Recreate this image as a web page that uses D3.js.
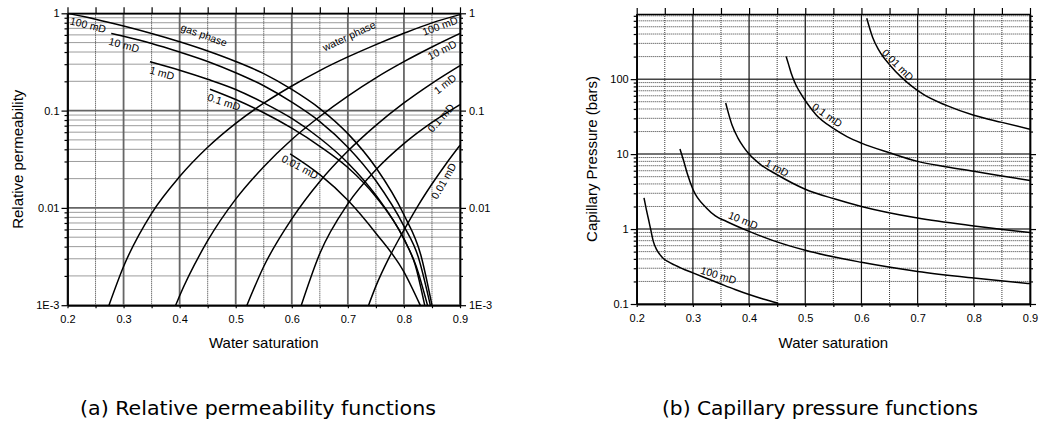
<!DOCTYPE html>
<html>
<head>
<meta charset="utf-8">
<script src="https://cdn.jsdelivr.net/npm/d3@7"></script>
<style>
  body { margin: 0; background: #fff; }
  svg text { font-family: "Liberation Sans", Arial, sans-serif; fill: #000; }
  .caption { font-family: "Liberation Sans Narrow", "DejaVu Sans Condensed", "Liberation Sans", sans-serif; }
</style>
</head>
<body>
<svg id="chart" width="1042" height="426"></svg>
<script>
// ---- Water saturation axis (shared) ----
const swMajorTicks = [0.2, 0.3, 0.4, 0.5, 0.6, 0.7, 0.8, 0.9];
const swTickLabels = ["0.2", "0.3", "0.4", "0.5", "0.6", "0.7", "0.8", "0.9"];
const swMinorTicks = [0.25, 0.35, 0.45, 0.55, 0.65, 0.75, 0.85];

// ---- Relative permeability: tick labels ----
const krTicks = [0.001, 0.01, 0.1, 1];
const krTickLabels = ["1E-3", "0.01", "0.1", "1"];

// ---- Relative permeability, gas phase [Sw, kr] ----
const gas100 = [[0.2,1.0],[0.25,0.87],[0.3,0.74],[0.35,0.62],[0.4,0.51],[0.45,0.41],[0.5,0.32],[0.55,0.24],[0.6,0.165],[0.65,0.105],[0.7,0.058],[0.75,0.026],[0.8,0.0085],[0.83,0.0033],[0.85,0.001]];
const gas10 = [[0.278,0.62],[0.3,0.58],[0.35,0.49],[0.4,0.40],[0.45,0.32],[0.5,0.245],[0.55,0.18],[0.6,0.122],[0.65,0.077],[0.7,0.042],[0.75,0.019],[0.8,0.0065],[0.825,0.0032],[0.847,0.001]];
const gas1 = [[0.347,0.318],[0.4,0.26],[0.45,0.21],[0.5,0.165],[0.55,0.12],[0.6,0.083],[0.65,0.052],[0.7,0.029],[0.75,0.0135],[0.8,0.0048],[0.822,0.0025],[0.842,0.001]];
const gas01 = [[0.454,0.166],[0.5,0.13],[0.55,0.095],[0.6,0.066],[0.65,0.043],[0.7,0.026],[0.75,0.013],[0.8,0.0048],[0.82,0.0026],[0.837,0.001]];
const gas001 = [[0.597,0.036],[0.65,0.022],[0.7,0.012],[0.75,0.0055],[0.8,0.0022],[0.829,0.001]];

// ---- Relative permeability, water phase [Sw, kr] ----
const water100 = [[0.274,0.001],[0.3,0.0025],[0.35,0.0088],[0.4,0.021],[0.45,0.042],[0.5,0.074],[0.55,0.119],[0.6,0.179],[0.65,0.258],[0.7,0.356],[0.75,0.477],[0.8,0.623],[0.85,0.797],[0.9,0.97]];
const water10 = [[0.393,0.001],[0.4,0.00125],[0.45,0.0046],[0.5,0.0123],[0.55,0.0265],[0.6,0.0505],[0.65,0.087],[0.7,0.141],[0.75,0.217],[0.8,0.318],[0.85,0.45],[0.9,0.62]];
const water1 = [[0.52,0.001],[0.55,0.0025],[0.6,0.0077],[0.65,0.0187],[0.7,0.0384],[0.75,0.0706],[0.8,0.12],[0.85,0.191],[0.9,0.29]];
const water01 = [[0.617,0.001],[0.65,0.0034],[0.7,0.011],[0.75,0.0246],[0.8,0.0457],[0.85,0.0755],[0.9,0.115]];
const water001 = [[0.737,0.001],[0.75,0.00157],[0.775,0.0032],[0.8,0.0059],[0.825,0.0105],[0.85,0.0176],[0.875,0.0283],[0.9,0.044]];

// ---- Capillary pressure: tick labels ----
const pcTicks = [0.1, 1, 10, 100];
const pcTickLabels = ["0.1", "1", "10", "100"];

// ---- Capillary pressure (bars) [Sw, Pc] ----
const pc100 = [[0.213,2.6],[0.217,1.85],[0.221,1.35],[0.225,0.98],[0.2297,0.68],[0.235,0.54],[0.241,0.46],[0.2475,0.405],[0.256,0.367],[0.267,0.332],[0.28,0.299],[0.3,0.26],[0.325,0.219],[0.35,0.1845],[0.375,0.156],[0.4,0.1336],[0.425,0.1164],[0.452,0.1023]];
const pc10 = [[0.277,11.7],[0.283,8.4],[0.29,5.5],[0.3,3.4],[0.3245,1.9],[0.34,1.5],[0.36,1.26],[0.4,0.93],[0.443,0.70],[0.5,0.52],[0.6,0.36],[0.7,0.272],[0.8,0.222],[0.9,0.187]];
const pc1 = [[0.3584,48],[0.362,38],[0.37,24],[0.38,16.5],[0.39,12.5],[0.4,10],[0.42,7.3],[0.45,5.3],[0.5,3.4],[0.55,2.55],[0.6,2.0],[0.7,1.4],[0.8,1.1],[0.9,0.9]];
const pc01 = [[0.466,200],[0.47,160],[0.475,120],[0.483,85],[0.492,64],[0.503,48],[0.52,33],[0.55,22],[0.575,17],[0.6,14],[0.65,10.4],[0.7,8.0],[0.75,6.8],[0.8,5.9],[0.85,5.1],[0.9,4.45]];
const pc001 = [[0.6094,650],[0.62,360],[0.6307,245],[0.652,150],[0.67,108],[0.69,80],[0.711,62],[0.75,45],[0.8,33],[0.85,26.5],[0.9,21.5]];

// ---------------------------------------------------------------
const svg = d3.select("#chart");

function logTicks(lo, hi) {
  const major = [], minor = [];
  for (let e = Math.floor(Math.log10(lo)); e <= Math.ceil(Math.log10(hi)); e++) {
    for (let d = 1; d < 10; d++) {
      const v = +(d * Math.pow(10, e)).toPrecision(6);
      if (v < lo * 0.999 || v > hi * 1.001) continue;
      (d === 1 ? major : minor).push(v);
    }
  }
  return { major, minor };
}

function drawPanel(cfg) {
  const { x, y, id } = cfg;
  const g = svg.append("g").attr("class", "panel-" + id);
  const [xl, xr] = x.range();
  const [yb, yt] = y.range();
  const lt = logTicks(y.domain()[0], y.domain()[1]);

  g.append("clipPath").attr("id", "clip-" + id)
    .append("rect").attr("x", xl).attr("y", yt).attr("width", xr - xl).attr("height", yb - yt);

  // dotted minor grid
  g.append("g").selectAll("line").data(lt.minor).join("line")
    .attr("x1", xl).attr("x2", xr).attr("y1", d => y(d)).attr("y2", d => y(d))
    .attr("stroke", "#222").attr("stroke-width", 0.9).attr("stroke-dasharray", "1,1");
  g.append("g").selectAll("line").data(swMinorTicks).join("line")
    .attr("x1", d => x(d)).attr("x2", d => x(d)).attr("y1", yt).attr("y2", yb)
    .attr("stroke", "#222").attr("stroke-width", 0.9).attr("stroke-dasharray", "1,1");

  // solid major grid
  g.append("g").selectAll("line").data(lt.major).join("line")
    .attr("x1", xl).attr("x2", xr).attr("y1", d => y(d)).attr("y2", d => y(d))
    .attr("stroke", cfg.hMajorColor).attr("stroke-width", cfg.hMajorWidth);
  g.append("g").selectAll("line").data(swMajorTicks).join("line")
    .attr("x1", d => x(d)).attr("x2", d => x(d)).attr("y1", yt).attr("y2", yb)
    .attr("stroke", cfg.vMajorColor).attr("stroke-width", cfg.vMajorWidth);

  // axes and ticks
  const styleAxis = sel => {
    sel.selectAll("path.domain").attr("stroke", "#000").attr("stroke-width", 1.4);
    sel.selectAll(".tick line").attr("stroke", "#000").attr("stroke-width", 1.2);
    sel.selectAll("text").attr("font-size", 11).attr("font-family", "Liberation Sans, Arial, sans-serif");
  };

  g.append("g").attr("transform", `translate(0,${yb})`)
    .call(d3.axisBottom(x).tickValues(swMajorTicks)
      .tickFormat((d, i) => swTickLabels[i]).tickSize(3).tickSizeOuter(0).tickPadding(7))
    .call(styleAxis);
  g.append("g").attr("transform", `translate(0,${yb})`)
    .call(d3.axisBottom(x).tickValues(swMinorTicks).tickFormat("").tickSize(3).tickSizeOuter(0))
    .call(styleAxis);
  g.append("g").attr("transform", `translate(0,${yt})`)
    .call(d3.axisTop(x).tickValues(swMajorTicks.concat(swMinorTicks)).tickFormat("").tickSize(6).tickSizeOuter(0))
    .call(styleAxis);

  g.append("g").attr("transform", `translate(${xl},0)`)
    .call(d3.axisLeft(y).tickValues(cfg.yTicks).tickFormat((d, i) => cfg.yLabels[i])
      .tickSize(6).tickSizeOuter(0).tickPadding(2))
    .call(styleAxis);
  g.append("g").attr("transform", `translate(${xl},0)`)
    .call(d3.axisLeft(y).tickValues(lt.minor).tickFormat("").tickSize(3).tickSizeOuter(0))
    .call(styleAxis);

  const right = d3.axisRight(y).tickValues(cfg.yTicks).tickSize(6).tickSizeOuter(0).tickPadding(3);
  if (cfg.rightLabels) right.tickFormat((d, i) => cfg.yLabels[i]); else right.tickFormat("");
  g.append("g").attr("transform", `translate(${xr},0)`).call(right).call(styleAxis);
  g.append("g").attr("transform", `translate(${xr},0)`)
    .call(d3.axisRight(y).tickValues(lt.minor).tickFormat("").tickSize(3).tickSizeOuter(0))
    .call(styleAxis);

  // curves
  const line = d3.line().x(d => x(d[0])).y(d => y(d[1])).curve(d3.curveMonotoneX);
  g.append("g").attr("clip-path", `url(#clip-${id})`)
    .selectAll("path").data(cfg.series).join("path")
    .attr("d", d => line(d)).attr("fill", "none")
    .attr("stroke", "#000").attr("stroke-width", 1.5);

  // curve annotations
  g.append("g").selectAll("text").data(cfg.notes).join("text")
    .attr("transform", d => `translate(${x(d.sw)},${y(d.v)}) rotate(${d.angle})`)
    .attr("text-anchor", "middle").attr("dy", d => (d.dy !== undefined ? d.dy : 0.35) + "em")
    .attr("font-size", 10.5).text(d => d.text);

  // axis titles
  g.append("text")
    .attr("transform", `translate(${cfg.yTitleX},${(yt + yb) / 2}) rotate(-90)`)
    .attr("text-anchor", "middle").attr("font-size", 15).text(cfg.yTitle);
  g.append("text")
    .attr("x", (xl + xr) / 2).attr("y", 348)
    .attr("text-anchor", "middle").attr("font-size", 15).text("Water saturation");

  // caption
  g.append("text").attr("class", "caption")
    .attr("x", cfg.captionX).attr("y", 415)
    .attr("text-anchor", "middle").attr("font-size", 19)
    .attr("textLength", cfg.captionWidth).attr("lengthAdjust", "spacingAndGlyphs")
    .text(cfg.caption);
}

// (a) relative permeability
drawPanel({
  id: "kr",
  x: d3.scaleLinear().domain([0.2, 0.9]).range([67.5, 460]),
  y: d3.scaleLog().domain([0.001, 1]).range([305.2, 13.3]),
  yTicks: krTicks, yLabels: krTickLabels, rightLabels: true,
  hMajorColor: "#666", hMajorWidth: 1.8, vMajorColor: "#666", vMajorWidth: 1.8,
  series: [gas100, gas10, gas1, gas01, gas001, water100, water10, water1, water01, water001],
  notes: [
    { text: "100 mD", sw: 0.2366, v: 0.758, angle: 14 },
    { text: "10 mD", sw: 0.3008, v: 0.472, angle: 15 },
    { text: "1 mD", sw: 0.3685, v: 0.243, angle: 16 },
    { text: "0.1 mD", sw: 0.479, v: 0.1226, angle: 18 },
    { text: "gas phase", sw: 0.4435, v: 0.598, angle: 20 },
    { text: "0.01 mD", sw: 0.6147, v: 0.0263, angle: 28 },
    { text: "water phase", sw: 0.7022, v: 0.585, angle: -25 },
    { text: "100 mD", sw: 0.8643, v: 0.74, angle: -20 },
    { text: "10 mD", sw: 0.868, v: 0.42, angle: -27 },
    { text: "1 mD", sw: 0.8733, v: 0.1875, angle: -38 },
    { text: "0.1 mD", sw: 0.866, v: 0.084, angle: -48 },
    { text: "0.01 mD", sw: 0.871, v: 0.0189, angle: -60 }
  ],
  yTitle: "Relative permeability", yTitleX: 23,
  caption: "(a) Relative permeability functions", captionX: 258, captionWidth: 356
});

// (b) capillary pressure
drawPanel({
  id: "pc",
  x: d3.scaleLinear().domain([0.2, 0.9]).range([636.7, 1030]),
  y: d3.scaleLog().domain([0.1, 740]).range([304, 14]),
  yTicks: pcTicks, yLabels: pcTickLabels, rightLabels: false,
  hMajorColor: "#444", hMajorWidth: 1.5, vMajorColor: "#111", vMajorWidth: 1.2,
  series: [pc100, pc10, pc1, pc01, pc001],
  notes: [
    { text: "0.01 mD", sw: 0.6614, v: 146, angle: 45, dy: 0.1 },
    { text: "0.1 mD", sw: 0.5368, v: 31.4, angle: 35, dy: 0.15 },
    { text: "1 mD", sw: 0.4479, v: 6.17, angle: 28, dy: 0.15 },
    { text: "10 mD", sw: 0.3891, v: 1.29, angle: 22, dy: 0.3 },
    { text: "100 mD", sw: 0.3447, v: 0.231, angle: 17, dy: 0.2 }
  ],
  yTitle: "Capillary Pressure (bars)", yTitleX: 597,
  caption: "(b) Capillary pressure functions", captionX: 820, captionWidth: 316
});
</script>
</body>
</html>
